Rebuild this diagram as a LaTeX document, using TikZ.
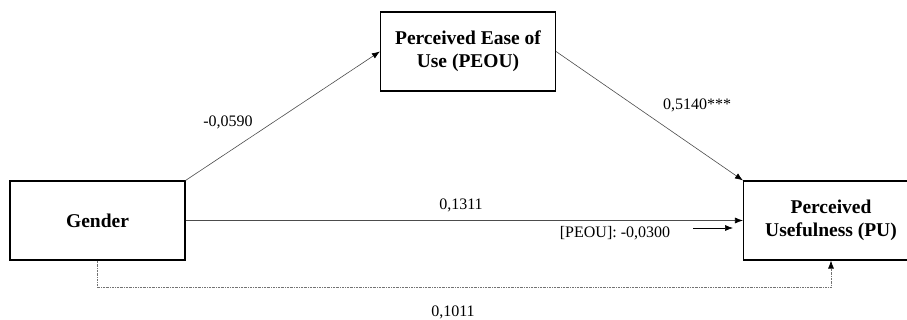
\documentclass[tikz,border=0pt]{standalone}
\usepackage{fontspec}
\setmainfont{Liberation Serif}
\usetikzlibrary{arrows.meta}
\begin{document}
\begin{tikzpicture}[x=1pt,y=-1pt,
  varbox/.style={draw=black,line width=1.1pt,minimum width=175pt,minimum height=79pt,
    align=center,inner sep=0pt,font=\bfseries\fontsize{19.5}{23}\selectfont},
  coef/.style={inner sep=0pt,font=\fontsize{16}{19}\selectfont},
  path/.style={draw=black!70,line width=0.6pt,-{Latex[length=8pt,width=6pt,color=black]}},
  indirect/.style={draw=black!55,line width=0.7pt,dash pattern=on 2pt off 1pt on 0.6pt off 1pt,
    -{Latex[length=8pt,width=6pt,color=black]}}]
\useasboundingbox (0,0) rectangle (907,320);

% variables
\node[varbox] (gender) at (97.5,220.5) {Gender};
\node[varbox] (peou) at (468,51.5) {Perceived Ease of\\Use (PEOU)};
\node[varbox] (pu) at (831,220.5) {Perceived\\Usefulness (PU)};

% paths
\draw[path] (gender.north east) -- (peou.west);
\draw[path] (peou.east) -- (pu.north west);
\draw[path] (gender.east) -- (pu.west);
\draw[indirect] (gender.south) -- ++(0,27) -| (pu.south);

% indirect effect marker
\coordinate (ia) at (693,228);
\coordinate (ib) at (733,228);
\draw[path,draw=black] (ia) -- (ib);

% coefficients
\node[coef] (c1) at (228,122) {-0,0590};
\node[coef] (c2) at (697,105) {0,5140***};
\node[coef] (c3) at (461,205) {0,1311};
\node[coef] (c4) at (615,233) {[PEOU]: -0,0300};
\node[coef] (c5) at (453,312) {0,1011};
\end{tikzpicture}
\end{document}
